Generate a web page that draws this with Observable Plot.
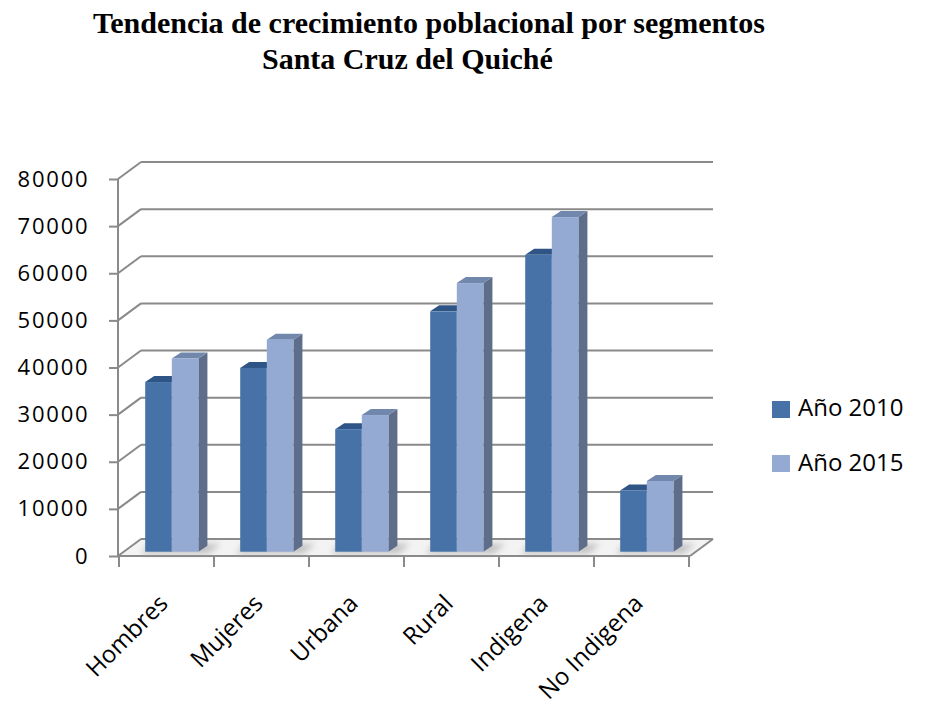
<!DOCTYPE html>
<html><head><meta charset="utf-8">
<script src="https://cdn.jsdelivr.net/npm/d3@7"></script>
<script src="https://cdn.jsdelivr.net/npm/@observablehq/plot@0.6"></script>
<style>
body{margin:0;background:#fff;}
#wrap{position:relative;width:925px;height:709px;overflow:hidden;}
#chart{position:absolute;left:0;top:0;}
.t{position:absolute;font-family:"Liberation Serif","Times New Roman",serif;font-weight:bold;font-size:30px;line-height:30px;white-space:nowrap;color:#000;}
.lg{position:absolute;font-family:"Open Sans",sans-serif;font-size:24px;line-height:24px;white-space:nowrap;color:#000;}
.sw{position:absolute;width:18px;height:17px;}
g[aria-label="y-axis tick label"] text{letter-spacing:1.8px;}
</style></head><body>
<div id="wrap">
  <div id="chart"></div>
  <div class="t" style="left:93px;top:8px;">Tendencia de crecimiento poblacional por segmentos</div>
  <div class="t" style="left:262px;top:44px;">Santa Cruz del Quiché</div>
  <div id="legend"></div>
</div>
<script>
const categories = ["Hombres", "Mujeres", "Urbana", "Rural", "Indigena", "No Indigena"];
const seriesNames = ["Año 2010", "Año 2015"];
const values2010 = [36000, 39000, 26000, 51000, 63000, 13000];
const values2015 = [41000, 45000, 29000, 57000, 71000, 15000];
const yTicks = [0, 10000, 20000, 30000, 40000, 50000, 60000, 70000, 80000];
const frontColors = ["#4672A8", "#94AAD2"];
const topColors = ["#2E5585", "#7187AB"];
const sideColors = ["#35598a", "#5E6E8A"];
const GRID = "#8a8a8a";
const DX = 23, DY = -17;       // depth of the 3D box
const BX = 5.5, BY = -4.3;     // depth position of the bars
const SX = 9, SY = -6;         // bar thickness

const seriesValues = [values2010, values2015];

function walls(index, scales, values, dims) {
  const {x, y} = scales;
  const xl = dims.marginLeft, xr = dims.width - dims.marginRight;
  const bw = x.bandwidth ? x.bandwidth() : (xr - xl) / categories.length;
  const g = d3.create("svg:g").attr("fill", "none").attr("stroke", GRID).attr("stroke-width", 2);
  const y0 = y(0);
  g.append("path")
    .attr("d", `M${xl},${y0}L${xl + DX},${y0 + DY}L${xr + DX},${y0 + DY}L${xr},${y0}Z`)
    .attr("fill", "#f3f3f3").attr("stroke", "none");
  for (const t of yTicks) {
    g.append("line").attr("x1", xl + DX).attr("x2", xr + DX).attr("y1", y(t) + DY).attr("y2", y(t) + DY);
    g.append("line").attr("x1", xl).attr("x2", xl + DX).attr("y1", y(t)).attr("y2", y(t) + DY);
  }
  g.append("line").attr("x1", xl).attr("x2", xl).attr("y1", y0).attr("y2", y(80000));
  g.append("line").attr("x1", xl).attr("x2", xr).attr("y1", y0).attr("y2", y0);
  g.append("line").attr("x1", xr).attr("x2", xr + DX).attr("y1", y0).attr("y2", y0 + DY);
  const bounds = categories.map(c => x(c)).concat([x(categories[categories.length - 1]) + bw]);
  for (const b of bounds) {
    g.append("line").attr("x1", b).attr("x2", b).attr("y1", y0).attr("y2", y0 + 11);
  }
  return g.node();
}

function bars3d(index, scales, values, dims) {
  const {x, y} = scales;
  const xl = dims.marginLeft, xr = dims.width - dims.marginRight;
  const bw = x.bandwidth ? x.bandwidth() : (xr - xl) / categories.length;
  const g = d3.create("svg:g");
  const defs = g.append("defs");
  defs.append("filter").attr("id", "shblur").attr("x", "-50%").attr("y", "-50%").attr("width", "200%").attr("height", "200%")
    .append("feGaussianBlur").attr("stdDeviation", 3);
  categories.forEach((c, i) => {
    const l0 = x(c) + bw * 0.218 + BX;
    const r1 = l0 + bw * 0.56;
    const yb = y(0) + BY;
    g.append("path")
      .attr("d", `M${l0 - 4},${yb + 2}L${r1 + 10},${yb + 2}L${r1 + 22},${yb - 8}L${l0 + 4},${yb - 8}Z`)
      .attr("fill", "#9a9a9a").attr("opacity", 0.55).attr("filter", "url(#shblur)");
    seriesValues.forEach((vals, s) => {
      const v = vals[i];
      const l = x(c) + bw * 0.218 + s * bw * 0.28 + BX;
      const r = l + bw * 0.28;
      const yt = y(v) + BY;
      g.append("path").attr("d", `M${r},${yb}L${r},${yt}L${r + SX},${yt + SY}L${r + SX},${yb + SY}Z`).attr("fill", sideColors[s]);
      g.append("path").attr("d", `M${l},${yt}L${r},${yt}L${r + SX},${yt + SY}L${l + SX},${yt + SY}Z`).attr("fill", topColors[s]);
      g.append("rect").attr("x", l).attr("y", yt).attr("width", r - l).attr("height", yb - yt).attr("fill", frontColors[s]);
    });
  });
  return g.node();
}

const chart = Plot.plot({
  width: 925,
  height: 709,
  marginLeft: 118,
  marginRight: 235,
  marginTop: 179,
  marginBottom: 153,
  style: {background: "transparent", fontFamily: "'Open Sans', sans-serif", color: "#000"},
  x: {type: "band", domain: categories, padding: 0},
  y: {domain: [0, 80000]},
  marks: [
    walls,
    Plot.axisY(yTicks, {tickSize: 9, tickPadding: 20, fontSize: 22, stroke: GRID, strokeWidth: 2, fill: "#000", tickFormat: d => String(d)}),
    Plot.axisX({tickSize: 0, tickRotate: -45, fontSize: 24, tickPadding: 43, dx: -3, fill: "#000"}),
    bars3d
  ]
});
document.getElementById("chart").appendChild(chart);

const legend = document.getElementById("legend");
seriesNames.forEach((name, s) => {
  const sw = document.createElement("div");
  sw.className = "sw";
  sw.style.left = "772px";
  sw.style.top = (401 + s * 54) + "px";
  sw.style.background = frontColors[s];
  legend.appendChild(sw);
  const tx = document.createElement("div");
  tx.className = "lg";
  tx.style.left = "798px";
  tx.style.top = (395 + s * 55) + "px";
  tx.textContent = name;
  legend.appendChild(tx);
});
</script>
</body></html>
